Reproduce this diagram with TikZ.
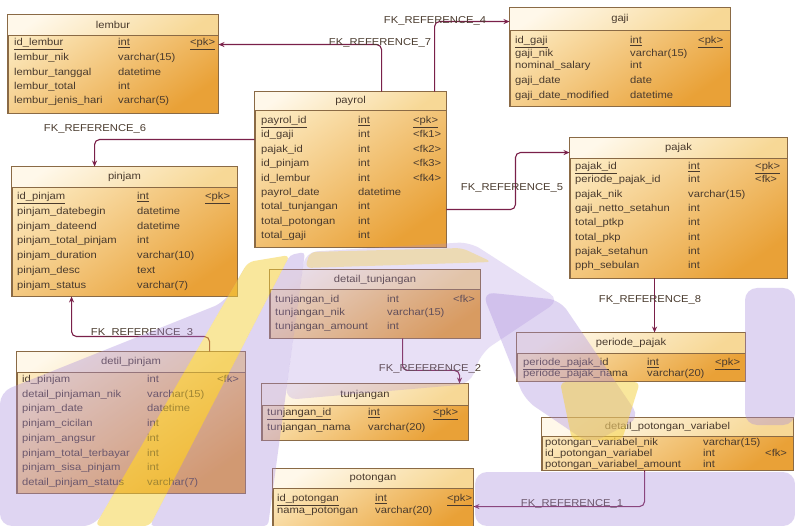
\documentclass[tikz,border=0pt]{standalone}
\usepackage{fontspec}
\setmainfont{Liberation Sans}[FakeStretch=1.12]
\usetikzlibrary{arrows.meta,fit}
\definecolor{bodyA}{HTML}{FCE8BC}
\definecolor{bodyB}{HTML}{E9A137}
\definecolor{hdrA}{HTML}{FFF8EA}
\definecolor{hdrB}{HTML}{F7D896}
\definecolor{tblborder}{HTML}{8A6A45}
\definecolor{txt}{HTML}{4A3B2E}
\definecolor{fkc}{HTML}{7A2049}
\definecolor{wmP}{HTML}{A98BDD}
\definecolor{wmY}{HTML}{F5D03A}
\tikzset{
  tblbody/.style={draw=tblborder, line width=0.9pt, top color=bodyA, bottom color=bodyB, shading angle=35, inner sep=0pt},
  hdrfill/.style={top color=hdrA, bottom color=hdrB, shading angle=35},
  tblline/.style={draw=tblborder, line width=0.9pt},
  ttl/.style={font=\fontsize{10}{12}\selectfont, text=txt, inner sep=0pt},
  rt/.style={font=\fontsize{10}{12}\selectfont, text=txt, inner sep=0pt, anchor=west, text height=7pt, text depth=2pt},
  fk/.style={draw=fkc, line width=1.1pt, rounded corners=5pt, -{Stealth[length=6pt,width=5pt]}},
  fklbl/.style={font=\fontsize{10}{12}\selectfont, text=txt, inner sep=0pt},
  wmpurple/.style={fill=wmP, fill opacity=0.36, rounded corners=12pt},
  wmyellow/.style={fill=wmY, fill opacity=0.5, rounded corners=6pt},
}
\newcommand\ertbl[7]{%
  \node[tblbody, fit={(#2,#3) (#4,#5)}] (#1) {};
  \shade[hdrfill] (#2,#3) rectangle (#4,#6);
  \draw[tblline] (#2,#6) -- (#4,#6);
  \draw[tblline] (#1.north west) rectangle (#1.south east);
  \node[ttl] (#1-title) at ({(#2+#4)/2},{(#3+#6)/2}) {#7};
}
\newcommand\errow[8]{%
  \node[rt] (#1-n) at (#3,#2) {#6};
  \node[rt] (#1-t) at (#4,#2) {#7};
  \node[rt] (#1-k) at (#5,#2) {#8};
}
\begin{document}
\begin{tikzpicture}[x=1pt,y=-1pt]
\useasboundingbox (0,0) rectangle (795,526);
\fill[white] (0,0) rectangle (795,526);

% lembur
\ertbl{lembur}{8}{15}{218}{113}{35}{lembur}
\errow{lb1}{43}{14}{118}{190}{\underline{id\_lembur}}{\underline{int}}{\underline{<pk>}}
\errow{lb2}{58}{14}{118}{190}{lembur\_nik}{varchar(15)}{}
\errow{lb3}{73}{14}{118}{190}{lembur\_tanggal}{datetime}{}
\errow{lb4}{87}{14}{118}{190}{lembur\_total}{int}{}
\errow{lb5}{101}{14}{118}{190}{lembur\_jenis\_hari}{varchar(5)}{}

% gaji
\ertbl{gaji}{510}{8}{730}{106}{30}{gaji}
\errow{gj1}{41}{515}{630}{698}{\underline{id\_gaji}}{\underline{int}}{\underline{<pk>}}
\errow{gj2}{54}{515}{630}{698}{gaji\_nik}{varchar(15)}{}
\errow{gj3}{66}{515}{630}{698}{nominal\_salary}{int}{}
\errow{gj4}{81}{515}{630}{698}{gaji\_date}{date}{}
\errow{gj5}{96}{515}{630}{698}{gaji\_date\_modified}{datetime}{}

% payrol
\ertbl{payrol}{255}{92}{446}{247}{110}{payrol}
\errow{pr1}{121}{261}{358}{413}{\underline{payrol\_id}}{\underline{int}}{\underline{<pk>}}
\errow{pr2}{135.4}{261}{358}{413}{id\_gaji}{int}{<fk1>}
\errow{pr3}{149.8}{261}{358}{413}{pajak\_id}{int}{<fk2>}
\errow{pr4}{164.2}{261}{358}{413}{id\_pinjam}{int}{<fk3>}
\errow{pr5}{178.6}{261}{358}{413}{id\_lembur}{int}{<fk4>}
\errow{pr6}{193}{261}{358}{413}{payrol\_date}{datetime}{}
\errow{pr7}{207.4}{261}{358}{413}{total\_tunjangan}{int}{}
\errow{pr8}{221.8}{261}{358}{413}{total\_potongan}{int}{}
\errow{pr9}{236.2}{261}{358}{413}{total\_gaji}{int}{}

% pinjam
\ertbl{pinjam}{12}{167}{237}{296}{187}{pinjam}
\errow{pj1}{197}{17}{137}{205}{\underline{id\_pinjam}}{\underline{int}}{\underline{<pk>}}
\errow{pj2}{211.8}{17}{137}{205}{pinjam\_datebegin}{datetime}{}
\errow{pj3}{226.6}{17}{137}{205}{pinjam\_dateend}{datetime}{}
\errow{pj4}{241.4}{17}{137}{205}{pinjam\_total\_pinjam}{int}{}
\errow{pj5}{256.2}{17}{137}{205}{pinjam\_duration}{varchar(10)}{}
\errow{pj6}{271}{17}{137}{205}{pinjam\_desc}{text}{}
\errow{pj7}{285.8}{17}{137}{205}{pinjam\_status}{varchar(7)}{}

% pajak
\ertbl{pajak}{570}{138}{787}{278}{158}{pajak}
\errow{pk1}{167}{575}{688}{755}{\underline{pajak\_id}}{\underline{int}}{\underline{<pk>}}
\errow{pk2}{180}{575}{688}{755}{periode\_pajak\_id}{int}{<fk>}
\errow{pk3}{195}{575}{688}{755}{pajak\_nik}{varchar(15)}{}
\errow{pk4}{209}{575}{688}{755}{gaji\_netto\_setahun}{int}{}
\errow{pk5}{223}{575}{688}{755}{total\_ptkp}{int}{}
\errow{pk6}{238}{575}{688}{755}{total\_pkp}{int}{}
\errow{pk7}{252}{575}{688}{755}{pajak\_setahun}{int}{}
\errow{pk8}{266}{575}{688}{755}{pph\_sebulan}{int}{}

% detail_tunjangan
\ertbl{dtunj}{270}{270}{480}{338}{289}{detail\_tunjangan}
\errow{dt1}{300}{275}{387}{453}{tunjangan\_id}{int}{<fk>}
\errow{dt2}{313}{275}{387}{453}{tunjangan\_nik}{varchar(15)}{}
\errow{dt3}{327}{275}{387}{453}{tunjangan\_amount}{int}{}

% detil_pinjam
\ertbl{dpinj}{17}{352}{245}{493}{372}{detil\_pinjam}
\errow{dp1}{380}{22}{147}{217}{id\_pinjam}{int}{<fk>}
\errow{dp2}{394.7}{22}{147}{217}{detail\_pinjaman\_nik}{varchar(15)}{}
\errow{dp3}{409.4}{22}{147}{217}{pinjam\_date}{datetime}{}
\errow{dp4}{424.1}{22}{147}{217}{pinjam\_cicilan}{int}{}
\errow{dp5}{438.8}{22}{147}{217}{pinjam\_angsur}{int}{}
\errow{dp6}{453.5}{22}{147}{217}{pinjam\_total\_terbayar}{int}{}
\errow{dp7}{468.2}{22}{147}{217}{pinjam\_sisa\_pinjam}{int}{}
\errow{dp8}{483}{22}{147}{217}{detail\_pinjam\_status}{varchar(7)}{}

% periode_pajak
\ertbl{ppajak}{517}{333}{745}{381}{353}{periode\_pajak}
\errow{pp1}{363}{523}{647}{715}{\underline{periode\_pajak\_id}}{\underline{int}}{\underline{<pk>}}
\errow{pp2}{374}{523}{647}{715}{periode\_pajak\_nama}{varchar(20)}{}

% tunjangan
\ertbl{tunj}{262}{384}{468}{440}{405}{tunjangan}
\errow{tj1}{413}{267}{368}{433}{\underline{tunjangan\_id}}{\underline{int}}{\underline{<pk>}}
\errow{tj2}{428}{267}{368}{433}{tunjangan\_nama}{varchar(20)}{}

% detail_potongan_variabel
\ertbl{dpv}{542}{418}{793}{470}{436}{detail\_potongan\_variabel}
\errow{dv1}{443}{545}{703}{765}{potongan\_variabel\_nik}{varchar(15)}{}
\errow{dv2}{454}{545}{703}{765}{id\_potongan\_variabel}{int}{<fk>}
\errow{dv3}{465}{545}{703}{765}{potongan\_variabel\_amount}{int}{}

% potongan
\ertbl{potongan}{273}{469}{473}{532}{488}{potongan}
\errow{pt1}{499}{277}{375}{447}{\underline{id\_potongan}}{\underline{int}}{\underline{<pk>}}
\errow{pt2}{511}{277}{375}{447}{nama\_potongan}{varchar(20)}{}

% connectors
\draw[fk] ([xshift=127pt]payrol.north west) |- ([yshift=-30pt]lembur.north east);
\draw[fk] ([xshift=180pt]payrol.north west) |- ([yshift=-14pt]gaji.north west);
\draw[fk] ([yshift=-48pt]payrol.north west) -| ([xshift=83pt]pinjam.north west);
\draw[fk] ([yshift=-118pt]payrol.north east) -- ++(69pt,0) |- ([yshift=-15pt]pajak.north west);
\draw[fk] ([xshift=85pt]pajak.south west) -- ([xshift=138pt]ppajak.north west);
\draw[fk] ([xshift=193pt]dpinj.north west) -- ++(0,15pt) -| ([xshift=60pt]pinjam.south west);
\draw[fk] ([xshift=133pt]dtunj.south west) -- ++(0,-32pt) -| ([xshift=198pt]tunj.north west);
\draw[fk] ([xshift=103pt]dpv.south west) |- ([yshift=-38pt]potongan.north east);

% labels
\node[fklbl] (l7) at (380,43) {FK\_REFERENCE\_7};
\node[fklbl] (l4) at (435,21) {FK\_REFERENCE\_4};
\node[fklbl] (l6) at (95,129) {FK\_REFERENCE\_6};
\node[fklbl] (l5) at (512,188) {FK\_REFERENCE\_5};
\node[fklbl] (l8) at (650,300) {FK\_REFERENCE\_8};
\node[fklbl] (l3) at (142,333) {FK\_REFERENCE\_3};
\node[fklbl] (l2) at (430,369) {FK\_REFERENCE\_2};
\node[fklbl] (l1) at (572,504) {FK\_REFERENCE\_1};

% watermark (translucent logo shapes over the diagram)
\fill[wmpurple] (0,392) -- (225,302) -- (248,262) -- (95,526) -- (0,526) -- cycle;
\fill[wmyellow] (248,262) -- (290,255) -- (150,526) -- (95,526) -- cycle;
\fill[wmpurple, rounded corners=4pt] (290,255) -- (305,252) -- (268,526) -- (150,526) -- cycle;
\fill[wmpurple, fill opacity=0.26] (305,252) -- (470,242) -- (560,300) -- (482,352) -- (470,384) -- (285,400) -- cycle;
\fill[wmyellow, fill opacity=0.35] (310,252) -- (462,248) -- (492,262) -- (305,268) -- cycle;
\fill[wmpurple] (482,292) -- (560,300) -- (640,418) -- (590,444) -- (525,400) -- cycle;
\fill[wmyellow] (560,382) -- (640,382) -- (622,440) -- (572,440) -- cycle;
\fill[wmpurple] (745,288) -- (795,288) -- (795,425) -- (745,425) -- cycle;
\fill[wmpurple] (475,472) -- (795,472) -- (795,526) -- (475,526) -- cycle;
\end{tikzpicture}
\end{document}
